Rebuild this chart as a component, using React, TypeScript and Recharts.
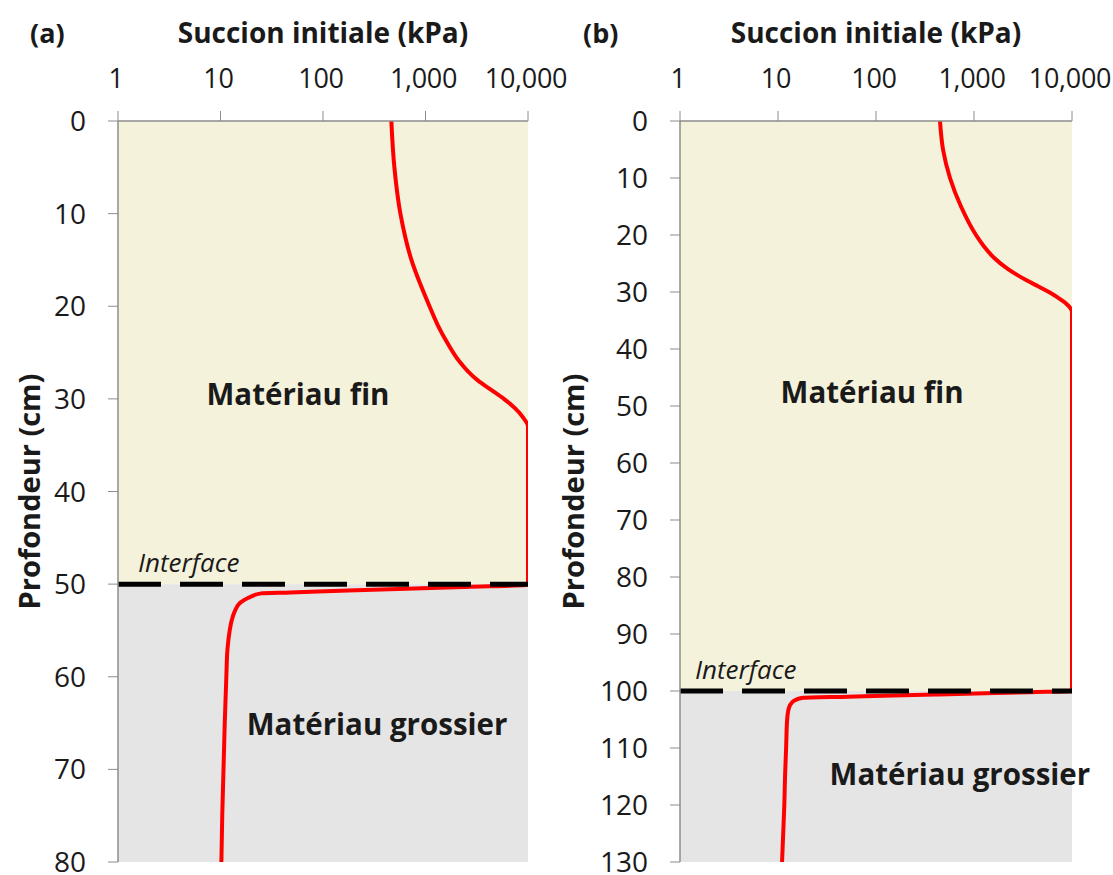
import React from 'react';
import { LineChart, Line, XAxis, YAxis, ReferenceArea, ReferenceLine } from 'recharts';

// ---- Data ----
const suctionTicks = [1, 10, 100, 1000, 10000];
const depthTicksA = [0, 10, 20, 30, 40, 50, 60, 70, 80];
const depthTicksB = [0, 10, 20, 30, 40, 50, 60, 70, 80, 90, 100, 110, 120, 130];

const depthA = [0, 5, 10, 15, 20, 22, 24, 26, 27, 28, 29, 30, 31, 32, 33, 40, 50, 50.1, 50.3, 50.5, 50.7, 50.9, 51, 51.5, 52, 53, 54, 55, 57, 60, 65, 70, 75, 80];
const suctionA = [464, 497, 569, 729, 1094, 1312, 1643, 2154, 2581, 3236, 4339, 5818, 7459, 8935, 10000, 10000, 10000, 9300, 2450, 650, 175, 48, 25, 18.5, 15.6, 13.7, 12.8, 12.3, 11.7, 11.4, 11, 10.7, 10.4, 10.2];

const depthB = [0, 5, 10, 15, 20, 22, 24, 26, 27, 28, 29, 30, 31, 32, 33, 33.5, 60, 100, 100.2, 100.4, 100.6, 100.8, 101, 101.2, 101.6, 102, 103, 105, 110, 115, 120, 125, 130];
const suctionB = [450, 483, 569, 737, 1048, 1265, 1600, 2224, 2748, 3475, 4498, 5821, 7195, 8683, 9770, 10000, 10000, 10000, 3700, 1300, 440, 150, 52, 18, 15, 13.9, 12.9, 12.4, 12.1, 11.8, 11.6, 11.3, 11];

const interfaceA = 50;
const interfaceB = 100;
const maxDepthA = 80;
const maxDepthB = 130;

const rowsA = depthA.map((d, i) => ({ d, s: suctionA[i] }));
const rowsB = depthB.map((d, i) => ({ d, s: suctionB[i] }));

const FONT = "'Open Sans', 'DejaVu Sans', sans-serif";
const FINE = '#F5F2DC';
const COARSE = '#E5E5E5';
const AXIS = '#8C8C8C';
const TXT = '#1A1A1A';

type PanelProps = {
  left: number;
  width: number;
  letter: string;
  letterX: number;
  rows: { d: number; s: number }[];
  maxDepth: number;
  iface: number;
  depthTicks: number[];
  yWidth: number;
  marginRight: number;
  ylabelX: number;
  fine: [number, number];
  coarse: [number, number];
  ifaceDx: number;
};

function Panel(p: PanelProps) {
  const xTick = (props: any) => (
    <text x={props.x - 2} y={88} textAnchor="middle" fontFamily={FONT} fontSize={27} letterSpacing={-0.3} fill={TXT}>
      {Number(props.payload.value).toLocaleString('en-US')}
    </text>
  );
  const yTick = (props: any) => (
    <text x={p.yWidth - 32} y={props.y + 10} textAnchor="end" fontFamily={FONT} fontSize={28} fill={TXT}>
      {props.payload.value}
    </text>
  );
  const xLabel = (props: any) => {
    const vb = props.viewBox || {};
    return (
      <g>
        <text x={p.letterX} y={43} fontFamily={FONT} fontWeight="bold" fontSize={27} fill={TXT}>
          {p.letter}
        </text>
        <text x={vb.x + vb.width / 2} y={43} textAnchor="middle" fontFamily={FONT} fontWeight="bold" fontSize={28} fill={TXT}>
          Succion initiale (kPa)
        </text>
      </g>
    );
  };
  const yLabel = (props: any) => {
    const vb = props.viewBox || {};
    const cy = vb.y + vb.height / 2;
    return (
      <text
        x={p.ylabelX}
        y={cy}
        transform={`rotate(-90 ${p.ylabelX} ${cy})`}
        textAnchor="middle"
        dominantBaseline="central"
        fontFamily={FONT}
        fontWeight="bold"
        fontSize={29}
        fill={TXT}
      >
        Profondeur (cm)
      </text>
    );
  };
  const areaLabel = (text: string, fx: number, fy: number) => (props: any) => {
    const vb = props.viewBox || {};
    return (
      <text
        x={vb.x + fx * vb.width}
        y={vb.y + fy * vb.height}
        textAnchor="middle"
        fontFamily={FONT}
        fontWeight="bold"
        fontSize={29.5}
        fill={TXT}
      >
        {text}
      </text>
    );
  };
  const ifaceLabel = (props: any) => {
    const vb = props.viewBox || {};
    return (
      <text x={vb.x + p.ifaceDx} y={vb.y - 12} fontFamily={FONT} fontStyle="italic" fontSize={26} fill={TXT}>
        Interface
      </text>
    );
  };

  return (
    <div style={{ position: 'absolute', left: p.left, top: 0 }}>
      <LineChart
        width={p.width}
        height={875}
        data={p.rows}
        layout="vertical"
        margin={{ top: 0, right: p.marginRight, bottom: 13, left: 0 }}
        style={{ overflow: 'visible' }}
      >
        <XAxis
          type="number"
          dataKey="s"
          orientation="top"
          scale="log"
          domain={[1, 10000]}
          ticks={suctionTicks}
          allowDataOverflow
          height={121}
          tick={xTick}
          tickSize={10}
          stroke={AXIS}
          tickLine={{ stroke: AXIS }}
          axisLine={{ stroke: AXIS, strokeWidth: 1.5 }}
          label={{ content: xLabel }}
        />
        <YAxis
          type="number"
          dataKey="d"
          domain={[0, p.maxDepth]}
          ticks={p.depthTicks}
          allowDataOverflow
          width={p.yWidth}
          tick={yTick}
          tickSize={10}
          stroke={AXIS}
          tickLine={{ stroke: AXIS }}
          axisLine={{ stroke: AXIS, strokeWidth: 1.5 }}
          label={{ content: yLabel }}
        />
        <ReferenceArea
          y1={0}
          y2={p.iface}
          fill={FINE}
          fillOpacity={1}
          stroke="none"
          label={{ content: areaLabel('Matériau fin', p.fine[0], p.fine[1]) }}
        />
        <ReferenceArea
          y1={p.iface}
          y2={p.maxDepth}
          fill={COARSE}
          fillOpacity={1}
          stroke="none"
          label={{ content: areaLabel('Matériau grossier', p.coarse[0], p.coarse[1]) }}
        />
        <Line
          dataKey="s"
          type="monotone"
          stroke="#FF0000"
          strokeWidth={4}
          dot={false}
          activeDot={false}
          isAnimationActive={false}
        />
        <ReferenceLine
          y={p.iface}
          stroke="#000000"
          strokeWidth={5}
          strokeDasharray="43 19"
          label={{ content: ifaceLabel }}
        />
      </LineChart>
    </div>
  );
}

export default function App() {
  return (
    <div style={{ position: 'absolute', left: 0, top: 0, width: 1113, height: 875, background: '#FFFFFF' }}>
      <Panel
        left={0}
        width={580}
        letter="(a)"
        letterX={30}
        rows={rowsA}
        maxDepth={maxDepthA}
        iface={interfaceA}
        depthTicks={depthTicksA}
        yWidth={118}
        marginRight={52}
        ylabelX={28}
        fine={[0.439, 0.613]}
        coarse={[0.632, 0.542]}
        ifaceDx={20}
      />
      <Panel
        left={540}
        width={573}
        letter="(b)"
        letterX={43}
        rows={rowsB}
        maxDepth={maxDepthB}
        iface={interfaceB}
        depthTicks={depthTicksB}
        yWidth={140}
        marginRight={41}
        ylabelX={32}
        fine={[0.49, 0.495]}
        coarse={[0.714, 0.55]}
        ifaceDx={15}
      />
    </div>
  );
}
